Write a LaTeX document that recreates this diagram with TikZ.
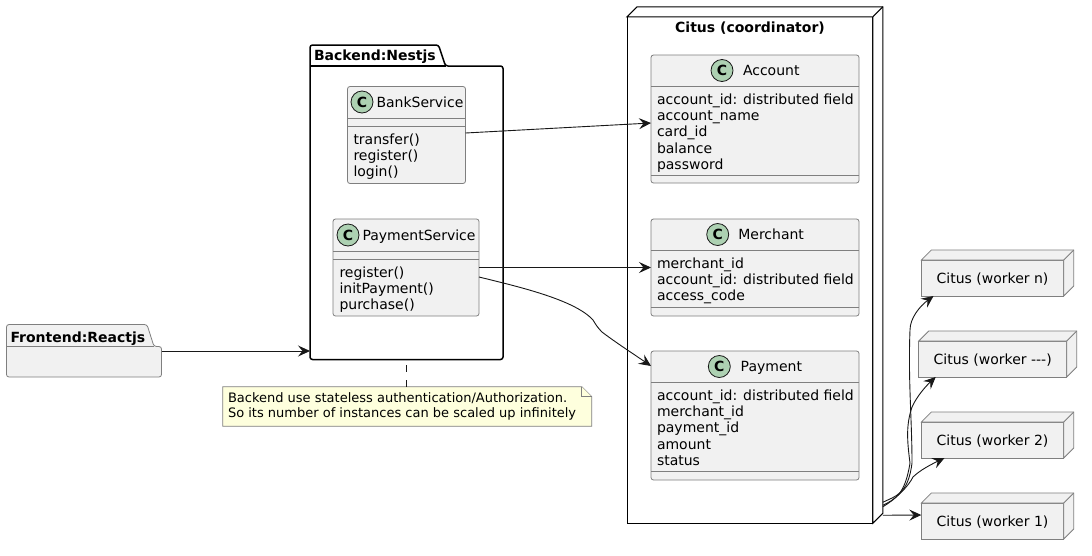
\documentclass[tikz,border=0pt]{standalone}
\usepackage{fontspec}
\setmainfont{DejaVu Sans}
\usetikzlibrary{arrows.meta,calc}
\definecolor{boxfill}{HTML}{F1F1F1}
\definecolor{boxline}{HTML}{7F7F7F}
\definecolor{ink}{HTML}{181818}
\definecolor{spot}{HTML}{ADD1B2}
\definecolor{notefill}{HTML}{FEFFDD}
\tikzset{
  every node/.style={inner sep=0pt,outer sep=0pt,text=black},
  classbox/.style={draw=boxline,fill=boxfill,line width=.8pt,rounded corners=2.5pt},
  rule/.style={draw=boxline,line width=.8pt},
  spotc/.style={circle,draw=ink,fill=spot,line width=.8pt,minimum size=22pt,font=\fontsize{14}{14}\selectfont\bfseries},
  classname/.style={anchor=base west,font=\fontsize{14}{16.4}\selectfont},
  members/.style={anchor=north west,align=left,font=\fontsize{14}{16.4}\selectfont},
  titletext/.style={font=\fontsize{14}{16.4}\selectfont\bfseries},
  front/.style={draw=boxline,fill=boxfill,line width=.8pt,font=\fontsize{14}{16.4}\selectfont,text height=12pt,text depth=2pt},
  link/.style={draw=ink,line width=.9pt,-{Stealth[length=12pt,width=11pt,inset=4.5pt]}},
}
\newcommand{\classnode}[5]{% name, cx, top, width, height
  \node[classbox,minimum width=#4pt,minimum height=#5pt] (#1) at (#2,#3+#5/2) {};
}
\newcommand{\depth}[2]{% name, style
  \draw[#2] (#1.north west) -- ++(10,-10) -- ($(#1.north east)+(10,-10)$) -- ($(#1.south east)+(10,-10)$) -- (#1.south east) -- (#1.north east) -- cycle;
  \draw[#2] ($(#1.north east)+(10,-10)$) -- (#1.north east);
}
\begin{document}
\begin{tikzpicture}[x=1pt,y=-1pt]
\useasboundingbox (0,0) rectangle (1092,555);
\fill[white] (0,0) rectangle (1092,555);

% Frontend package
\draw[draw=boxline,fill=boxfill,line width=.8pt,rounded corners=2.5pt] (6.5,346.5) -- (6.5,324.5) -- (147,324.5) -- (154,346.5) -- (161.5,346.5) -- (161.5,377) -- (6.5,377) -- cycle;
\draw[draw=boxline,line width=.8pt] (6.5,346.5) -- (154,346.5);
\node[minimum width=155pt,minimum height=30.5pt] (front) at (84,361.75) {};
\node[titletext,anchor=base west] (fronttitle) at (10.5,342) {Frontend:Reactjs};

% Backend package
\node[minimum width=193pt,minimum height=293.5pt] (back) at (406.5,212.75) {};
\draw[black,line width=1.5pt,fill=white,rounded corners=2.5pt] (310,359.5) -- (310,45) -- (438.5,45) -- (445.5,66) -- (503,66) -- (503,359.5) -- cycle;
\draw[black,line width=1.5pt] (310,66) -- (445.5,66);
\node[titletext,anchor=base west] (backtitle) at (314,60) {Backend:Nestjs};

% BankService
\classnode{bank}{406.5}{86.5}{118}{97}
\draw[rule] (347.5,118) -- (465.5,118);
\draw[rule] (347.5,126) -- (465.5,126);
\node[spotc] (bankc) at (362,102) {C};
\node[classname] (bankn) at (376.5,107) {BankService};
\node[members] (bankm) at (353.5,133.5) {transfer()\\register()\\login()};

% PaymentService
\classnode{pay}{406}{219}{146}{97}
\draw[rule] (333,251) -- (479,251);
\draw[rule] (333,259) -- (479,259);
\node[spotc] (payc) at (348,235) {C};
\node[classname] (payn) at (362.5,240) {PaymentService};
\node[members] (paym) at (339.5,266.5) {register()\\initPayment()\\purchase()};

% Coordinator
\node[draw=black,fill=white,line width=1pt,minimum width=245.7pt,minimum height=506.5pt] (coord) at (750,270) {};
\depth{coord}{draw=black,fill=white,line width=1pt}
\node[titletext] (coordt) at (750,28.5) {Citus (coordinator)};

% Account
\classnode{acc}{755}{55}{208}{128}
\draw[rule] (651,86) -- (859,86);
\draw[rule] (651,175) -- (859,175);
\node[spotc] (accc) at (722,70.5) {C};
\node[classname] (accn) at (743,75.5) {Account};
\node[members] (accm) at (657,93.5) {account\_id: distributed field\\account\_name\\card\_id\\balance\\password};

% Merchant
\classnode{mer}{755}{219}{208}{97}
\draw[rule] (651,250) -- (859,250);
\draw[rule] (651,307) -- (859,307);
\node[spotc] (merc) at (717.7,234.5) {C};
\node[classname] (mern) at (738.3,239.5) {Merchant};
\node[members] (merm) at (657,257.5) {merchant\_id\\account\_id: distributed field\\access\_code};

% Payment
\classnode{pmt}{755}{351}{208}{129}
\draw[rule] (651,382) -- (859,382);
\draw[rule] (651,471) -- (859,471);
\node[spotc] (pmtc) at (719.3,366.5) {C};
\node[classname] (pmtn) at (740.7,371.5) {Payment};
\node[members] (pmtm) at (657,389.5) {account\_id: distributed field\\merchant\_id\\payment\_id\\amount\\status};

% Workers
\node[front,minimum width=142.4pt,minimum height=36pt] (wn) at (992.5,278) {Citus (worker n)};
\depth{wn}{draw=boxline,fill=boxfill,line width=.8pt}
\node[front,minimum width=148pt,minimum height=36pt] (wd) at (992.7,359) {Citus (worker -{}-{}-)};
\depth{wd}{draw=boxline,fill=boxfill,line width=.8pt}
\node[front,minimum width=142.4pt,minimum height=36pt] (w2) at (992.5,440) {Citus (worker 2)};
\depth{w2}{draw=boxline,fill=boxfill,line width=.8pt}
\node[front,minimum width=142.4pt,minimum height=36pt] (w1) at (992.5,521) {Citus (worker 1)};
\depth{w1}{draw=boxline,fill=boxfill,line width=.8pt}

% Note
\node[minimum width=369pt,minimum height=39.5pt] (note) at (407.2,406.5) {};
\draw[draw=boxline,fill=notefill,line width=.8pt] (note.north west) -- ($(note.north east)+(-10,0)$) -- ($(note.north east)+(0,10)$) -- (note.south east) -- (note.south west) -- cycle;
\draw[draw=boxline,fill=notefill,line width=.8pt] ($(note.north east)+(-10,0)$) -- ($(note.north east)+(-10,10)$) -- ($(note.north east)+(0,10)$);
\node[font=\fontsize{13}{15.2}\selectfont,align=left,anchor=west] (notetext) at ([xshift=5.3pt]note.west)
      {Backend use stateless authentication/Authorization.\\So its number of instances can be scaled up infinitely};

% Connectors
\draw[link] ([yshift=10.75pt]front.east) -- ([yshift=-138.25pt]back.west);
\draw[link] ([yshift=2pt]bank.east) -- ([yshift=-4pt]acc.west);
\draw[link] ([yshift=0pt]pay.east) -- ([yshift=0pt]mer.west);
\draw[link] ([yshift=-9.5pt]pay.east) .. controls +(41,10) and (575,300) .. (593,320)
   .. controls (596,325) and (598,328) .. (602,332)
   .. controls (615,342) and (635,355) .. ([yshift=49.5pt]pmt.west);
\draw[draw=ink,line width=.9pt,dash pattern=on 7pt off 8pt] (note.north -| back.south) -- (back.south);

\draw[link] ([xshift=10pt,yshift=8pt]coord.south east) -- ([yshift=6pt]w1.west);
\draw[link] ([xshift=10pt,yshift=16.5pt]coord.south east) .. controls +(12,-7) and (908,487) .. (913,477)
   .. controls (920,470) and (932,464) .. ([xshift=-48pt]w2.south);
\draw[link] ([xshift=10pt,yshift=18pt]coord.south east) .. controls +(12,-6) and (905,495) .. (910,463)
   .. controls (907,440) and (906,425) .. (912,407)
   .. controls (917,396) and (926,386) .. ([xshift=-57pt]wd.south);
\draw[link] ([xshift=10pt,yshift=21pt]coord.south east) .. controls +(12,-6) and (908,495) .. (912,463)
   .. controls (912,420) and (908,380) .. (910,330)
   .. controls (910,318) and (920,306) .. ([xshift=-59pt]wn.south);
\end{tikzpicture}
\end{document}
